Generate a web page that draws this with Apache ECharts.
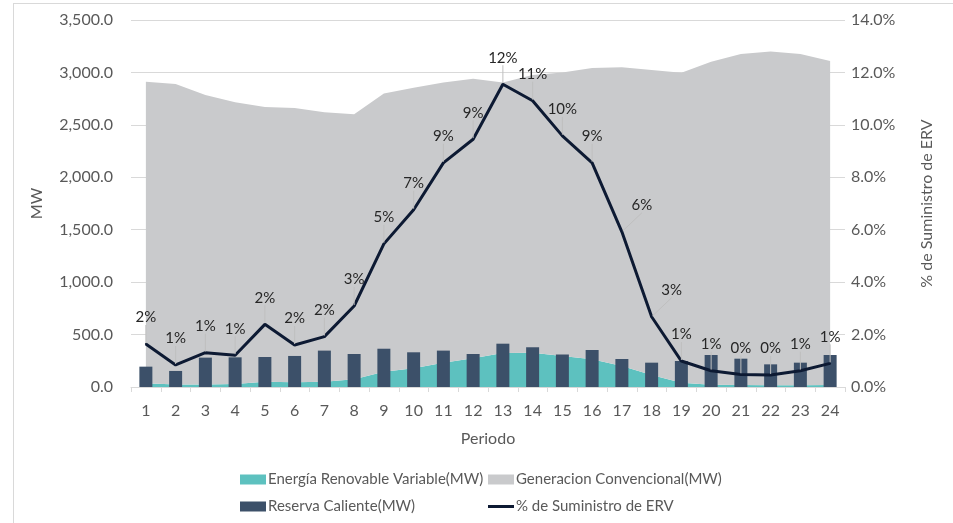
<!DOCTYPE html>
<html>
<head>
<meta charset="utf-8">
<script src="https://cdn.jsdelivr.net/npm/echarts@6/dist/echarts.min.js"></script>
<style>
    html, body { margin: 0; padding: 0; background: #fff; }
    #frame { position: absolute; left: 13px; top: 3px; width: 1000px; height: 600px; border: 1px solid #d9d9d9; }
    #chart { position: absolute; left: 0; top: 0; width: 953px; height: 523px; }
</style>
</head>
<body>
<div id="frame"></div>
<div id="chart"></div>
<script>
// Periodo 1..24
const periodos = ['1','2','3','4','5','6','7','8','9','10','11','12','13','14','15','16','17','18','19','20','21','22','23','24']
// Energía Renovable Variable (MW)
const erv = [35, 25, 25, 28, 50, 45, 50, 73, 146, 178, 232, 273, 325, 327, 296, 264, 200, 114, 41, 22, 18, 16, 17, 20]
// demanda total (MW) = ERV + convencional, borde superior del área gris
const total = [2912, 2890, 2785, 2715, 2670, 2661, 2620, 2600, 2800, 2855, 2905, 2940, 2905, 2975, 3000, 3042, 3049, 3023, 2998, 3102, 3175, 3200, 3175, 3109]
const convencional = total.map((t, i) => t - erv[i])
// Reserva Caliente (MW)
const reserva = [194, 153, 280, 283, 286, 296, 347, 315, 365, 331, 347, 315, 413, 379, 310, 353, 267, 232, 248, 305, 270, 216, 232, 305]
// % de Suministro de ERV
const pctErv = [1.64, 0.84, 1.31, 1.21, 2.39, 1.60, 1.92, 3.09, 5.46, 6.76, 8.55, 9.45, 11.55, 10.92, 9.58, 8.55, 5.92, 2.68, 0.99, 0.62, 0.48, 0.46, 0.62, 0.90]

const font = 'Lato, "Open Sans", sans-serif'
const grey = '#595959'

let chart = echarts.init(document.getElementById('chart'))

function legendAt(name, left, top, h) {
    return {
        data: [{ name: name, icon: 'rect' }],
        left: left,
        top: top,
        itemWidth: 26,
        itemHeight: h || 10,
        itemGap: 0,
        padding: 0,
        textStyle: { color: grey, fontSize: 15, fontFamily: font, padding: [0, 0, 0, -3] },
        selectedMode: false
    }
}

// etiquetas en tramos de caída fuerte se corren a la derecha para no pisar la línea
function pctLabelLayout(params) {
    let i = params.dataIndex
    let drop = i > 0 ? pctErv[i - 1] - pctErv[i] : 0
    return { dx: drop > 2 ? 20 : 0, dy: -12 }
}

let option = {
    backgroundColor: 'transparent',
    animation: false,
    textStyle: { fontFamily: font },
    legend: [
        legendAt('Energía Renovable Variable(MW)', 240, 472),
        legendAt('Generacion Convencional(MW)', 488, 472),
        legendAt('Reserva Caliente(MW)', 240, 499),
        legendAt('% de Suministro de ERV', 488, 499, 3)
    ],
    grid: {
        left: 131,
        right: 108,
        top: 20,
        bottom: 136
    },
    xAxis: {
        type: 'category',
        data: periodos,
        name: 'Periodo',
        nameLocation: 'middle',
        nameGap: 44,
        nameTextStyle: { color: grey, fontSize: 16 },
        axisLine: { show: true, lineStyle: { color: '#d9d9d9', width: 1 } },
        axisTick: { show: true, length: 5, lineStyle: { color: '#d9d9d9' } },
        axisLabel: { color: grey, fontSize: 16, margin: 16 },
        splitLine: { show: false }
    },
    yAxis: [
        {
            type: 'value',
            min: 0,
            max: 3500,
            interval: 500,
            name: 'MW',
            nameLocation: 'middle',
            nameGap: 86,
            nameTextStyle: { color: grey, fontSize: 16 },
            axisLine: { show: false },
            axisTick: { show: false },
            axisLabel: {
                color: grey,
                fontSize: 16,
                margin: 18,
                formatter: v => v.toLocaleString('en-US', { minimumFractionDigits: 1, maximumFractionDigits: 1 })
            },
            splitLine: { lineStyle: { color: '#d9d9d9', width: 1 } }
        },
        {
            type: 'value',
            min: 0,
            max: 14,
            interval: 2,
            name: '% de Suministro de ERV',
            nameLocation: 'middle',
            nameGap: 74,
            nameRotate: 90,
            nameTextStyle: { color: grey, fontSize: 16 },
            axisLine: { show: false },
            axisTick: { show: false },
            axisLabel: {
                color: grey,
                fontSize: 16,
                margin: 6,
                formatter: v => v.toFixed(1) + '%'
            },
            splitLine: { show: false }
        }
    ],
    series: [
        {
            name: 'Energía Renovable Variable(MW)',
            type: 'line',
            stack: 'gen',
            symbol: 'none',
            z: 1,
            lineStyle: { width: 0 },
            itemStyle: { color: '#5dc1bf' },
            areaStyle: { color: '#5dc1bf', opacity: 1 },
            data: erv
        },
        {
            name: 'Generacion Convencional(MW)',
            type: 'line',
            stack: 'gen',
            symbol: 'none',
            z: 1,
            lineStyle: { width: 0 },
            itemStyle: { color: '#c9cacc' },
            areaStyle: { color: '#c9cacc', opacity: 1 },
            data: convencional
        },
        {
            name: 'Reserva Caliente(MW)',
            type: 'bar',
            barWidth: 13,
            z: 3,
            itemStyle: { color: '#3c5069' },
            data: reserva
        },
        {
            name: '% de Suministro de ERV',
            type: 'line',
            yAxisIndex: 1,
            symbol: 'circle',
            symbolSize: 2,
            showSymbol: true,
            z: 5,
            lineStyle: { color: '#0d1a33', width: 3 },
            itemStyle: { color: '#0d1a33' },
            label: {
                show: true,
                position: 'top',
                distance: 6,
                color: '#262626',
                fontSize: 15,
                formatter: p => Math.round(p.value) + '%'
            },
            labelLine: { show: true, lineStyle: { color: '#bfbfbf', width: 1 } },
            labelLayout: pctLabelLayout,
            data: pctErv
        }
    ]
}

chart.setOption(option)
window.addEventListener('resize', function () {
    chart.resize()
})
</script>
</body>
</html>
